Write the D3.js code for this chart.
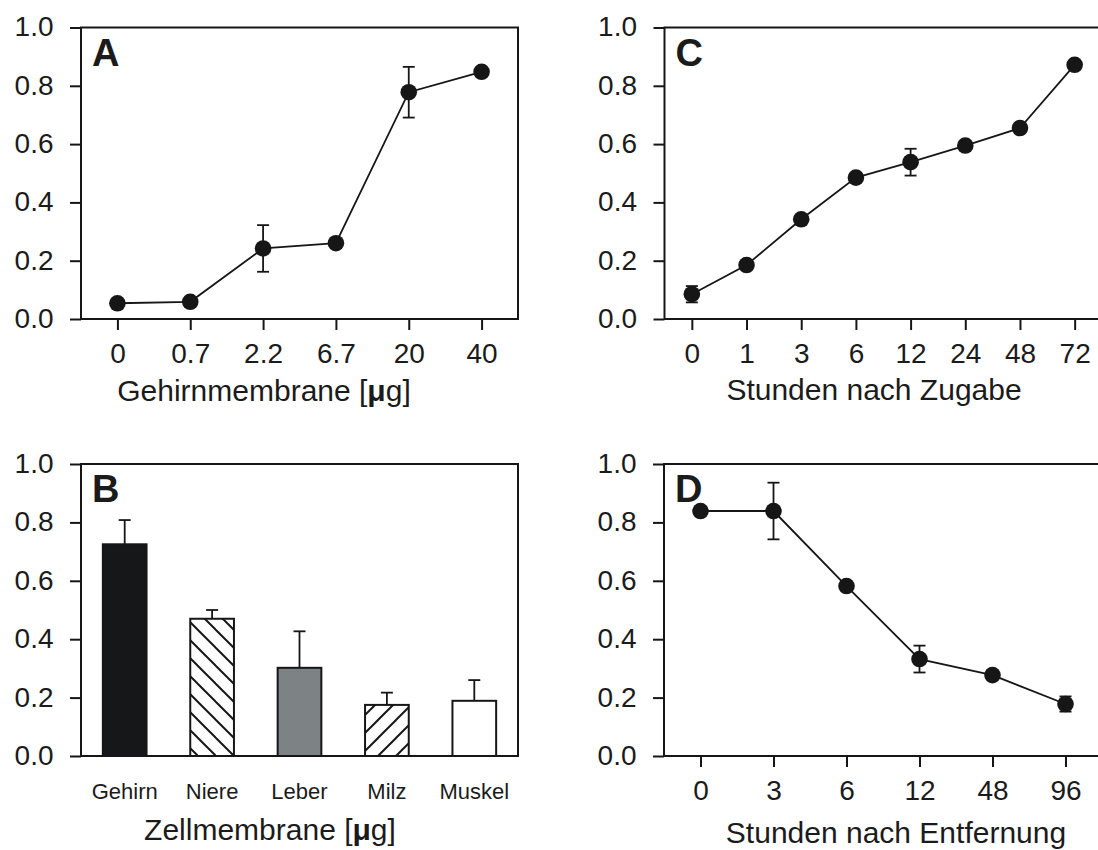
<!DOCTYPE html>
<html>
<head>
<meta charset="utf-8">
<script src="https://cdn.jsdelivr.net/npm/d3@7"></script>
<style>
  body { margin: 0; background: #fff; }
  svg text { font-family: "Liberation Sans", Arial, sans-serif; fill: #1b1b1b; }
</style>
</head>
<body>
<svg id="chart" width="1098" height="850"></svg>
<script>
// values
var yTicks = [0, 0.2, 0.4, 0.6, 0.8, 1.0];

var doseLabels = ["0", "0.7", "2.2", "6.7", "20", "40"];
var doseValues = [0.054, 0.059, 0.242, 0.260, 0.778, 0.848];
var doseErrors = [0, 0, 0.08, 0, 0.087, 0];

var tissueLabels = ["Gehirn", "Niere", "Leber", "Milz", "Muskel"];
var tissueValues = [0.725, 0.470, 0.302, 0.175, 0.189];
var tissueErrors = [0.083, 0.030, 0.125, 0.042, 0.071];
var tissueFills = ["#161718", "url(#hatchBack)", "#7d8385", "url(#hatchFwd)", "#ffffff"];

var addHours = ["0", "1", "3", "6", "12", "24", "48", "72"];
var addValues = [0.085, 0.185, 0.342, 0.485, 0.538, 0.595, 0.655, 0.872];
var addErrors = [0.028, 0, 0, 0, 0.046, 0, 0, 0];

var removeHours = ["0", "3", "6", "12", "48", "96"];
var removeValues = [0.839, 0.839, 0.582, 0.332, 0.277, 0.178];
var removeErrors = [0, 0.097, 0, 0.046, 0, 0.026];

var ink = "#161616";
var svg = d3.select("#chart");

// hatch patterns for the bars
var defs = svg.append("defs");
defs.append("pattern").attr("id", "hatchBack")
    .attr("patternUnits", "userSpaceOnUse").attr("width", 18).attr("height", 18)
    .selectAll("path").data(["M0,0 L18,18", "M-9,9 L9,27", "M9,-9 L27,9"]).enter()
    .append("path").attr("d", function(d) { return d; })
    .attr("stroke", ink).attr("stroke-width", 2);
defs.append("pattern").attr("id", "hatchFwd")
    .attr("patternUnits", "userSpaceOnUse").attr("width", 18).attr("height", 18)
    .selectAll("path").data(["M0,18 L18,0", "M-9,9 L9,-9", "M9,27 L27,9"]).enter()
    .append("path").attr("d", function(d) { return d; })
    .attr("stroke", ink).attr("stroke-width", 2);

function yAxis(g, y, left) {
    g.append("g")
        .attr("transform", "translate(" + left + ",0)")
        .call(d3.axisLeft(y).tickValues(yTicks).tickFormat(d3.format(".1f"))
            .tickSize(11).tickSizeOuter(0).tickPadding(16.5))
        .call(function(a) {
            a.select(".domain").remove();
            a.selectAll("line").attr("stroke", ink).attr("stroke-width", 2);
            a.selectAll("text").attr("font-size", 28).attr("fill", ink).attr("dy", "0.3em");
        });
}

function frame(g, left, right, top, bottom) {
    g.append("rect")
        .attr("x", left).attr("y", top)
        .attr("width", right - left).attr("height", bottom - top)
        .attr("fill", "none").attr("stroke", ink).attr("stroke-width", 2);
}

function letter(g, text, left, top) {
    g.append("text").attr("x", left + 11).attr("y", top + 38)
        .attr("font-size", 38).attr("font-weight", "bold").attr("fill", ink)
        .text(text);
}

function title(g, text, x, y, micro) {
    var t = g.append("text").attr("x", x).attr("y", y)
        .attr("text-anchor", "middle").attr("font-size", 30).attr("fill", ink);
    if (micro) {
        t.append("tspan").text(text + " [");
        t.append("tspan").attr("font-weight", "bold").text("\u03bc");
        t.append("tspan").text("g]");
    } else {
        t.text(text);
    }
}

function linePanel(opts) {
    var g = svg.append("g");
    var x = d3.scalePoint().domain(opts.labels).range([opts.left, opts.right]).padding(0.5);
    var y = d3.scaleLinear().domain([0, 1]).range([opts.bottom, opts.top]);

    g.append("g")
        .attr("transform", "translate(0," + opts.bottom + ")")
        .call(d3.axisBottom(x).tickSize(11).tickSizeOuter(0).tickPadding(13.5))
        .call(function(a) {
            a.select(".domain").remove();
            a.selectAll("line").attr("stroke", ink).attr("stroke-width", 2);
            a.selectAll("text").attr("font-size", 28).attr("fill", ink);
        });
    yAxis(g, y, opts.left);
    frame(g, opts.left, opts.right, opts.top, opts.bottom);

    var pts = opts.labels.map(function(l, i) {
        return { label: l, value: opts.values[i], err: opts.errors[i] };
    });

    g.append("path").datum(pts)
        .attr("fill", "none").attr("stroke", ink).attr("stroke-width", 1.8)
        .attr("d", d3.line().x(function(d) { return x(d.label); }).y(function(d) { return y(d.value); }));

    var eb = g.selectAll(".err").data(pts.filter(function(d) { return d.err > 0; }))
        .enter().append("g").attr("class", "err")
        .attr("stroke", ink).attr("stroke-width", 1.8);
    eb.append("line")
        .attr("x1", function(d) { return x(d.label); }).attr("x2", function(d) { return x(d.label); })
        .attr("y1", function(d) { return y(d.value + d.err); }).attr("y2", function(d) { return y(d.value - d.err); });
    eb.append("line")
        .attr("x1", function(d) { return x(d.label) - 6; }).attr("x2", function(d) { return x(d.label) + 6; })
        .attr("y1", function(d) { return y(d.value + d.err); }).attr("y2", function(d) { return y(d.value + d.err); });
    eb.append("line")
        .attr("x1", function(d) { return x(d.label) - 6; }).attr("x2", function(d) { return x(d.label) + 6; })
        .attr("y1", function(d) { return y(d.value - d.err); }).attr("y2", function(d) { return y(d.value - d.err); });

    g.selectAll("circle").data(pts).enter().append("circle")
        .attr("cx", function(d) { return x(d.label); })
        .attr("cy", function(d) { return y(d.value); })
        .attr("r", 8.3).attr("fill", ink);

    letter(g, opts.letter, opts.left, opts.top);
    title(g, opts.title, opts.titleX, opts.titleY, opts.micro);
}

// A
linePanel({ labels: doseLabels, values: doseValues, errors: doseErrors,
    left: 81, right: 518, top: 27.5, bottom: 319, letter: "A",
    title: "Gehirnmembrane", titleX: 264, titleY: 401, micro: true });

// C
linePanel({ labels: addHours, values: addValues, errors: addErrors,
    left: 664.5, right: 1102, top: 27.5, bottom: 319, letter: "C",
    title: "Stunden nach Zugabe", titleX: 874, titleY: 400 });

// D
linePanel({ labels: removeHours, values: removeValues, errors: removeErrors,
    left: 664, right: 1102, top: 464, bottom: 756, letter: "D",
    title: "Stunden nach Entfernung", titleX: 896, titleY: 843 });

// B - bar panel
(function() {
    var left = 81, right = 518, top = 464, bottom = 756;
    var g = svg.append("g");
    var x = d3.scaleBand().domain(tissueLabels).range([left, right])
        .paddingInner(0.5).paddingOuter(0.25);
    var y = d3.scaleLinear().domain([0, 1]).range([bottom, top]);

    var bars = tissueLabels.map(function(l, i) {
        return { label: l, value: tissueValues[i], err: tissueErrors[i], fill: tissueFills[i] };
    });

    // error bars (upper only)
    var eb = g.selectAll(".err").data(bars).enter().append("g")
        .attr("stroke", ink).attr("stroke-width", 1.8);
    eb.append("line")
        .attr("x1", function(d) { return x(d.label) + x.bandwidth() / 2; })
        .attr("x2", function(d) { return x(d.label) + x.bandwidth() / 2; })
        .attr("y1", function(d) { return y(d.value); })
        .attr("y2", function(d) { return y(d.value + d.err); });
    eb.append("line")
        .attr("x1", function(d) { return x(d.label) + x.bandwidth() / 2 - 6; })
        .attr("x2", function(d) { return x(d.label) + x.bandwidth() / 2 + 6; })
        .attr("y1", function(d) { return y(d.value + d.err); })
        .attr("y2", function(d) { return y(d.value + d.err); });

    g.selectAll("rect.bar").data(bars).enter().append("rect")
        .attr("class", "bar")
        .attr("x", function(d) { return x(d.label); })
        .attr("y", function(d) { return y(d.value); })
        .attr("width", x.bandwidth())
        .attr("height", function(d) { return y(0) - y(d.value); })
        .attr("fill", function(d) { return d.fill; })
        .attr("stroke", ink).attr("stroke-width", 2);

    g.append("g")
        .attr("transform", "translate(0," + bottom + ")")
        .call(d3.axisBottom(x).tickSize(0).tickSizeOuter(0).tickPadding(27))
        .call(function(a) {
            a.select(".domain").remove();
            a.selectAll("line").remove();
            a.selectAll("text").attr("font-size", 22).attr("fill", ink);
        });
    yAxis(g, y, left);
    frame(g, left, right, top, bottom);
    letter(g, "B", left, top);
    title(g, "Zellmembrane", 270, 840, true);
})();
</script>
</body>
</html>
